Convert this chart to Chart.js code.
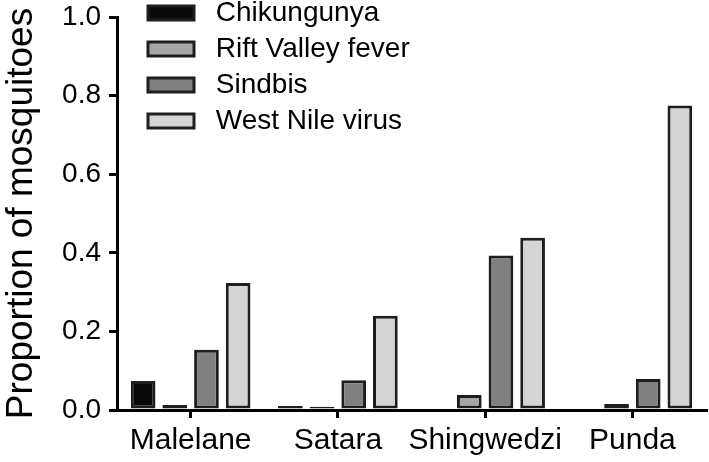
<!DOCTYPE html>
<html>
<head>
<meta charset="utf-8">
<script src="https://cdn.jsdelivr.net/npm/chart.js@4"></script>
<style>
  body { margin: 0; background: #fff; }
</style>
</head>
<body>
<canvas id="chartColumn" width="709" height="462"></canvas>
<script>
const labels = ["Malelane", "Satara", "Shingwedzi", "Punda"];
const chikungunya = [0.074, 0.010, 0, 0];
const riftValley = [0.013, 0.008, 0.038, 0.015];
const sindbis = [0.153, 0.076, 0.393, 0.079];
const westNile = [0.323, 0.240, 0.438, 0.775];
const yTicks = [0, 0.2, 0.4, 0.6, 0.8, 1.0];

const font = "'Liberation Sans', Arial, Helvetica, sans-serif";
const edge = "#1e1e1e";

const data = {
    labels: labels,
    datasets: [
        { label: "Chikungunya", data: chikungunya, backgroundColor: "#080808" },
        { label: "Rift Valley fever", data: riftValley, backgroundColor: "#a6a6a6" },
        { label: "Sindbis", data: sindbis, backgroundColor: "#808080" },
        { label: "West Nile virus", data: westNile, backgroundColor: "#d4d4d4" },
    ].map((d) => ({ ...d, borderColor: edge, borderWidth: 3, borderSkipped: false })),
};

// legend sits inside the plot, upper left
const legendSpot = {
    id: "legendSpot",
    afterLayout(chart) {
        const lg = chart.legend;
        lg.left = chart.chartArea.left + 23;
        lg.top = chart.chartArea.top - 26;
    },
};

const config = {
    type: "bar",
    data: data,
    plugins: [legendSpot],
    options: {
        responsive: false,
        animation: false,
        layout: { padding: { top: 17, right: 3, left: 0, bottom: 0 } },
        datasets: { bar: { categoryPercentage: 0.86, barPercentage: 0.78 } },
        plugins: {
            tooltip: { enabled: false },
            legend: {
                position: "chartArea",
                align: "start",
                labels: {
                    boxWidth: 46,
                    boxHeight: 14,
                    padding: 8,
                    color: "#000",
                    font: { family: font, size: 28 },
                    generateLabels: (chart) =>
                        Chart.defaults.plugins.legend.labels.generateLabels(chart)
                            .map((item) => ({ ...item, text: " " + item.text })),
                },
            },
        },
        scales: {
            x: {
                afterFit: (s) => { s.height = 52; },
                grid: {
                    offset: false,
                    drawOnChartArea: false,
                    drawTicks: true,
                    tickLength: 8,
                    color: "#000",
                    lineWidth: 3,
                },
                border: { display: true, color: "#000", width: 3 },
                ticks: {
                    color: "#000",
                    padding: 5,
                    autoSkip: false,
                    maxRotation: 0,
                    font: { family: font, size: 30 },
                },
            },
            y: {
                min: 0,
                max: 1,
                afterFit: (s) => { s.width = 117; s.paddingTop = 0; s.paddingBottom = 0; },
                afterBuildTicks: (s) => { s.ticks = yTicks.map((v) => ({ value: v })); },
                grid: {
                    drawOnChartArea: false,
                    drawTicks: true,
                    tickLength: 8,
                    color: "#000",
                    lineWidth: 3,
                },
                border: { display: true, color: "#000", width: 3 },
                ticks: {
                    color: "#000",
                    padding: 8,
                    font: { family: font, size: 28 },
                    callback: (v) => Number(v).toFixed(1),
                },
                title: {
                    display: true,
                    text: "Proportion of mosquitoes",
                    color: "#000",
                    padding: 0,
                    font: { family: font, size: 37 },
                },
            },
        },
    },
};

new Chart(document.getElementById("chartColumn"), config);
</script>
</body>
</html>
